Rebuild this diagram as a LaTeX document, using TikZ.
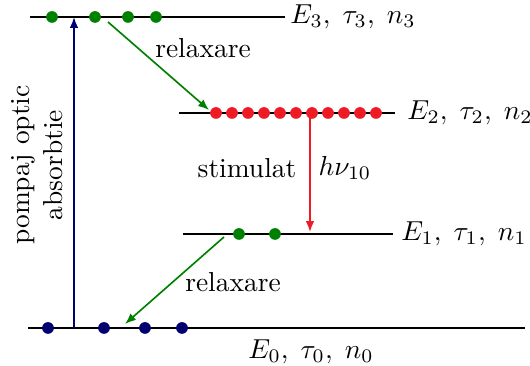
\documentclass[tikz,border=0pt]{standalone}
\usepackage{amsmath,amssymb}
\usetikzlibrary{arrows.meta, positioning, calc}
\definecolor{dotgreen}{RGB}{0,128,0}
\definecolor{dotred}{RGB}{237,28,36}
\definecolor{dotblue}{RGB}{0,0,110}
\tikzset{
  levelline/.style={line width=1pt, black},
  particle/.style={circle, fill=#1, inner sep=0pt, minimum size=0.15cm},
  lvlarrow/.style={-{Latex[length=1.4mm, width=1.1mm]}, line width=0.6pt, draw=#1},
  lvllbl/.style={font=\normalsize, anchor=west, inner sep=1pt},
}
\begin{document}
\begin{tikzpicture}[x=0.0128cm, y=-0.0128cm]
      \useasboundingbox (0,0) rectangle (530,366);
      % === Energy levels ===
      \coordinate (e3a) at (30,17);  \coordinate (e3b) at (285,17);
      \coordinate (e2a) at (179,113); \coordinate (e2b) at (395,113);
      \coordinate (e1a) at (183,234); \coordinate (e1b) at (393,234);
      \coordinate (e0a) at (28,328);  \coordinate (e0b) at (525,328);
      \draw[levelline] (e3a) -- (e3b);
      \draw[levelline] (e2a) -- (e2b);
      \draw[levelline] (e1a) -- (e1b);
      \draw[levelline] (e0a) -- (e0b);

      % Level labels
      \node[lvllbl] (lbl3) at (287,17) {$E_3,\;\tau_3,\;n_3$};
      \node[lvllbl] (lbl2) at (404,113) {$E_2,\;\tau_2,\;n_2$};
      \node[lvllbl] (lbl1) at (398,234) {$E_1,\;\tau_1,\;n_1$};
      \node[inner sep=1pt, anchor=north] (lbl0) at (311,336) {$E_0,\;\tau_0,\;n_0$};

      % === Particles ===
      \foreach \x [count=\i] in {52,95,128,156}
        \node[particle=dotgreen] (p3\i) at (\x,17) {};
      \foreach \i in {1,...,11}
        \node[particle=dotred] (p2\i) at ({216+16*(\i-1)},113) {};
      \foreach \x [count=\i] in {239,275}
        \node[particle=dotgreen] (p1\i) at (\x,234) {};
      \foreach \x [count=\i] in {48,104,145,182}
        \node[particle=dotblue] (p0\i) at (\x,328) {};

      % === Transitions ===
      \coordinate (pumpa) at (74,328);   \coordinate (pumpb) at (74,17);
      \coordinate (rel3a) at (108,22);   \coordinate (rel3b) at (209,110);
      \coordinate (stima) at (310,113);  \coordinate (stimb) at (310,232);
      \coordinate (rel1a) at (224,237);  \coordinate (rel1b) at (125,324);
      \draw[lvlarrow=dotblue] (pumpa) -- (pumpb);
      \draw[lvlarrow=dotgreen] (rel3a) -- (rel3b);
      \draw[lvlarrow=dotred] (stima) -- (stimb);
      \draw[lvlarrow=dotgreen] (rel1a) -- (rel1b);

      % Transition labels
      \node (relup) at (203,48) {relaxare};
      \node (reldown) at (233,282) {relaxare};
      \node (stim) at (247,168) {stimulat};
      \node (hnu) at (345,168) {$h\nu_{10}$};
      \node[rotate=90, align=center] (pump) at (37,165) {pompaj optic\\absorbtie};
    \end{tikzpicture}
\end{document}
